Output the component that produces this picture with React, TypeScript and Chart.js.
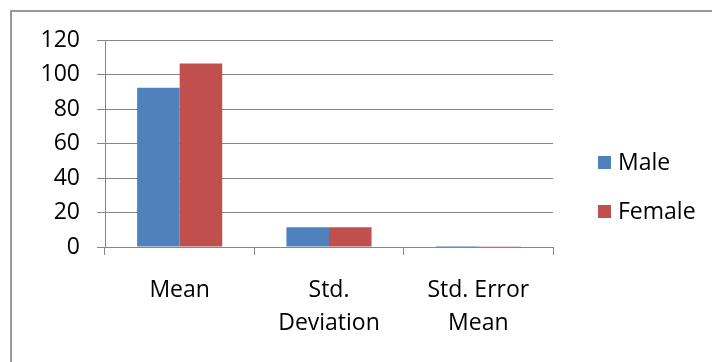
import React, { useEffect, useRef } from "react";
import { Chart, registerables } from "chart.js";

Chart.register(...registerables);

const categories: (string | string[])[] = ["Mean", ["Std.", "Deviation"], ["Std. Error", "Mean"]];
const maleValues = [92.3, 11.5, 0.55];
const femaleValues = [106.4, 11.5, 0.5];
const seriesNames = ["Male", "Female"];
const yTicks = [0, 20, 40, 60, 80, 100, 120];

const FONT = "'Open Sans', sans-serif";
const FSIZE = 23;

const customLegend = {
  id: "customLegend",
  afterDraw(chart: any) {
    const { ctx, chartArea } = chart;
    ctx.save();
    ctx.font = `${FSIZE}px ${FONT}`;
    ctx.textBaseline = "middle";
    ctx.textAlign = "left";
    chart.data.datasets.forEach((ds: any, i: number) => {
      const y = 163 + i * 49;
      const x = chartArea.right + 45;
      ctx.fillStyle = ds.backgroundColor;
      ctx.fillRect(x, y - 7, 13, 13);
      ctx.fillStyle = "#000";
      ctx.fillText(ds.label, x + 20, y);
    });
    ctx.restore();
  },
};

export default function App() {
  const ref = useRef<HTMLCanvasElement>(null);
  useEffect(() => {
    const chart = new Chart(ref.current!, {
      type: "bar",
      data: {
        labels: categories,
        datasets: [
          { label: seriesNames[0], data: maleValues, backgroundColor: "#4F81BD", borderWidth: 0 },
          { label: seriesNames[1], data: femaleValues, backgroundColor: "#C0504D", borderWidth: 0 },
        ],
      },
      options: {
        animation: false,
        responsive: false,
        maintainAspectRatio: false,
        layout: { padding: { top: 40, right: 159, bottom: 0, left: 0 } },
        plugins: { legend: { display: false }, tooltip: { enabled: false } },
        datasets: { bar: { categoryPercentage: 0.57, barPercentage: 1 } },
        scales: {
          x: {
            grid: { drawOnChartArea: false, drawTicks: true, tickLength: 8, color: "#868686", offset: true },
            border: { color: "#868686", width: 1 },
            ticks: {
              color: "#000",
              padding: 19,
              maxRotation: 0,
              autoSkip: false,
              font: { family: FONT, size: FSIZE, lineHeight: 33 / FSIZE },
            },
            afterFit: (s: any) => { s.height = 115; },
          },
          y: {
            min: 0,
            max: 120,
            afterBuildTicks: (s: any) => { s.ticks = yTicks.map((v) => ({ value: v })); },
            grid: { color: "#868686", tickLength: 8, drawTicks: true },
            border: { color: "#868686", width: 1 },
            ticks: { color: "#000", padding: 17, font: { family: FONT, size: FSIZE } },
            afterFit: (s: any) => { s.width = 105; },
          },
        },
      },
      plugins: [customLegend],
    });
    return () => chart.destroy();
  }, []);
  return (
    <div style={{ position: "absolute", left: 0, top: 0, width: 712, height: 362, background: "#fff", overflow: "hidden" }}>
      <canvas ref={ref} width={712} height={362} style={{ position: "absolute", left: 0, top: 0 }} />
      <div style={{ position: "absolute", left: 10, top: 10, width: 720, height: 380, borderLeft: "2px solid #999", borderTop: "2px solid #999", pointerEvents: "none" }} />
    </div>
  );
}
